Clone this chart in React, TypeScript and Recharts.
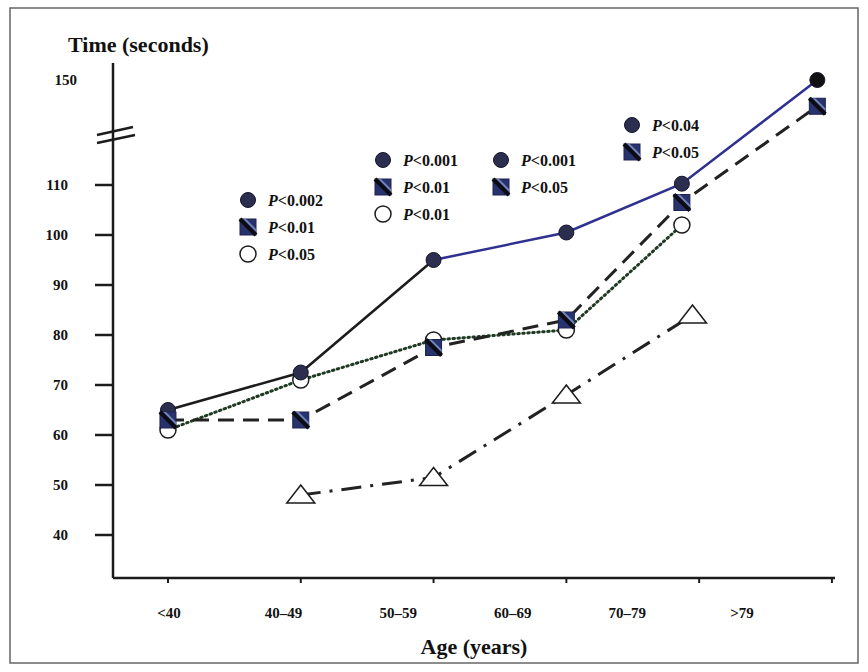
import React from 'react';
import { LineChart, Line, XAxis, YAxis, ReferenceDot } from 'recharts';

const ageGroups = ['<40', '40–49', '50–59', '60–69', '70–79', '>79'];
// where each group's points sit along the axis (tick index units)
const pointPos = [0, 1, 2, 3, 3.87, 4.89];
const trianglePos = [1, 2, 3, 3.95];

const filledCircle = [65, 72.5, 95, 100.5, 110.5, 150];
const hatchedSquare = [63, 63, 77.5, 83, 106.5, 140];
const openCircle = [61, 71, 79, 81, 102];
const openTriangle = [48, 51.5, 68, 84];

const yTicks = [40, 50, 60, 70, 80, 90, 100, 110, 150];
const xTicks = [0, 1, 2, 3, 4, 5];
const blueFrom = 2; // solid line turns blue from 50–59 on

// p-value notes next to the lines
const notesA = ['P<0.002', 'P<0.01', 'P<0.05'];
const notesB = ['P<0.001', 'P<0.01', 'P<0.01'];
const notesC = ['P<0.001', 'P<0.05'];
const notesD = ['P<0.04', 'P<0.05'];
const noteMarks = ['filled', 'square', 'open'];

// broken y axis: everything above 110 is squeezed
const BREAK_AT = 110;
const SQUEEZE = 0.525;
const brk = (v: number) => (v <= BREAK_AT ? v : BREAK_AT + (v - BREAK_AT) * SQUEEZE);
const unbrk = (v: number) => (v <= BREAK_AT + 0.01 ? v : Math.round(BREAK_AT + (v - BREAK_AT) / SQUEEZE));

const toRows = (pos: number[], vals: number[]) => vals.map((v, i) => ({ x: pos[i], y: brk(v) }));

const circleRows = toRows(pointPos, filledCircle);
const blackRows = circleRows.slice(0, blueFrom + 1);
const blueRows = circleRows.slice(blueFrom);
const squareRows = toRows(pointPos, hatchedSquare);
const openRows = toRows(pointPos, openCircle);
const triRows = toRows(trianglePos, openTriangle);
// the age labels sit on their own axis, it needs something bound to it
const labelRows = xTicks.map((i) => ({ x: i, y: 40 }));

const FONT = '"Liberation Serif", "Times New Roman", serif';
const INK = '#1c1c1c';
const BLUE = '#2f3190';

const FilledDot = ({ cx, cy, last }: any) => (
  <circle cx={cx} cy={cy} r={7.5} fill={last ? '#111' : '#2c2e50'} stroke="#15152a" strokeWidth={1} />
);

const SquareDot = ({ cx, cy }: any) => {
  const s = 8;
  return (
    <g>
      <rect x={cx - s} y={cy - s} width={2 * s} height={2 * s} fill="#28336e" stroke="#1c2250" strokeWidth={1} />
      <polygon
        points={`${cx - s + 3},${cy - s} ${cx - s + 6},${cy - s} ${cx + s},${cy + s - 6} ${cx + s},${cy + s - 3}`}
        fill="#7081bb"
      />
      <line x1={cx - s} y1={cy - s} x2={cx + s} y2={cy + s} stroke="#0c0c14" strokeWidth={4} />
    </g>
  );
};

const OpenDot = ({ cx, cy }: any) => (
  <circle cx={cx} cy={cy} r={8} fill="#fff" stroke={INK} strokeWidth={1.5} />
);

const TriDot = ({ cx, cy }: any) => (
  <polygon
    points={`${cx - 14},${cy + 8} ${cx + 14},${cy + 8} ${cx},${cy - 10}`}
    fill="#fff"
    stroke={INK}
    strokeWidth={1.5}
  />
);

const YTick = ({ x, y, payload }: any) => {
  const label = unbrk(payload.value);
  const top = label > BREAK_AT;
  return (
    <g>
      {!top && <line x1={x + 27} y1={y} x2={x + 45} y2={y} stroke={INK} strokeWidth={2.5} />}
      <text x={top ? x + 9 : x} y={y} dy="0.35em" textAnchor="end" fontFamily={FONT} fontWeight="bold" fontSize={15} fill="#111">
        {label}
      </text>
    </g>
  );
};

const EmptyTick = () => <g />;

const BreakMark = ({ cx, cy }: any) => (
  <g stroke={INK} strokeWidth={2.5}>
    <line x1={cx - 16} y1={cy} x2={cx + 20} y2={cy - 8} />
    <line x1={cx - 16} y1={cy + 8} x2={cx + 22} y2={cy} />
  </g>
);

const NoteMark = ({ kind, cx, cy }: any) => {
  if (kind === 'filled') return <FilledDot cx={cx} cy={cy} />;
  if (kind === 'square') return <SquareDot cx={cx} cy={cy} />;
  return <OpenDot cx={cx} cy={cy} />;
};

const NoteGroup = ({ x, y, notes }: { x: number; y: number; notes: string[] }) => (
  <g>
    {notes.map((n, i) => (
      <g key={i}>
        <NoteMark kind={noteMarks[i]} cx={x} cy={y + i * 27} />
        <text x={x + 20} y={y + i * 27} dy="0.35em" fontFamily={FONT} fontWeight="bold" fontSize={16} fill="#111">
          <tspan fontStyle="italic">P</tspan>
          {n.slice(1)}
        </text>
      </g>
    ))}
  </g>
);

export default function App() {
  return (
    <div style={{ position: 'absolute', left: 0, top: 0, width: 868, height: 672, background: '#fff' }}>
      <LineChart width={868} height={672} margin={{ top: 63, right: 33, bottom: 14, left: 53 }}>
        <XAxis
          type="number"
          dataKey="x"
          domain={[-0.414, 5.023]}
          ticks={xTicks}
          allowDataOverflow
          height={10}
          tickSize={5}
          tick={<EmptyTick />}
          axisLine={{ stroke: INK, strokeWidth: 2.5 }}
          tickLine={{ stroke: INK, strokeWidth: 2 }}
        />
        <XAxis
          xAxisId="lbl"
          type="number"
          dataKey="x"
          domain={[-0.489, 5.812]}
          ticks={xTicks}
          allowDataOverflow
          interval={0}
          height={70}
          axisLine={false}
          tickLine={false}
          tickSize={6}
          tickMargin={13}
          tickFormatter={(i: number) => ageGroups[i]}
          tick={{ fill: '#111', fontFamily: FONT, fontWeight: 'bold', fontSize: 15 }}
          label={{
            value: 'Age (years)',
            position: 'insideBottom',
            offset: 4,
            style: { fill: '#111', fontFamily: FONT, fontWeight: 'bold', fontSize: 22 },
          }}
        />
        <YAxis
          type="number"
          dataKey="y"
          domain={[31.4, 134.4]}
          ticks={yTicks.map(brk)}
          allowDataOverflow
          width={60}
          tickSize={18}
          tickMargin={27}
          tickLine={false}
          tick={<YTick />}
          axisLine={{ stroke: INK, strokeWidth: 2.5 }}
        />
        <ReferenceDot x={-0.414} y={120} ifOverflow="visible" shape={<BreakMark />} />

        <Line xAxisId="lbl" data={labelRows} dataKey="y" stroke="none" dot={false} isAnimationActive={false} />
        <Line data={blackRows} dataKey="y" stroke={INK} strokeWidth={2.5} dot={false} isAnimationActive={false} />
        <Line data={blueRows} dataKey="y" stroke={BLUE} strokeWidth={2.5} dot={false} isAnimationActive={false} />
        <Line
          data={openRows}
          dataKey="y"
          stroke="#1f3a22"
          strokeWidth={3}
          strokeDasharray="1.5 3.5"
          strokeLinecap="round"
          dot={(p: any) => <OpenDot key={p.index} cx={p.cx} cy={p.cy} />}
          isAnimationActive={false}
        />
        <Line
          data={circleRows}
          dataKey="y"
          stroke="none"
          dot={(p: any) => (
            <FilledDot key={p.index} cx={p.cx} cy={p.cy} last={p.index === filledCircle.length - 1} />
          )}
          isAnimationActive={false}
        />
        <Line
          data={squareRows}
          dataKey="y"
          stroke="#222"
          strokeWidth={3}
          strokeDasharray="16 9"
          dot={(p: any) => <SquareDot key={p.index} cx={p.cx} cy={p.cy} />}
          isAnimationActive={false}
        />
        <Line
          data={triRows}
          dataKey="y"
          stroke="#222"
          strokeWidth={3}
          strokeDasharray="20 9 3 9"
          dot={(p: any) => <TriDot key={p.index} cx={p.cx} cy={p.cy} />}
          isAnimationActive={false}
        />
      </LineChart>

      <svg width={868} height={672} style={{ position: 'absolute', left: 0, top: 0, pointerEvents: 'none' }}>
        <rect x={10} y={8} width={848} height={655} fill="none" stroke="#666" strokeWidth={1.5} />
        <text x={68} y={52} fontFamily={FONT} fontWeight="bold" fontSize={22} fill="#111">
          Time (seconds)
        </text>
        <NoteGroup x={248} y={200} notes={notesA} />
        <NoteGroup x={383} y={160} notes={notesB} />
        <NoteGroup x={501} y={160} notes={notesC} />
        <NoteGroup x={632} y={125} notes={notesD} />
      </svg>
    </div>
  );
}
